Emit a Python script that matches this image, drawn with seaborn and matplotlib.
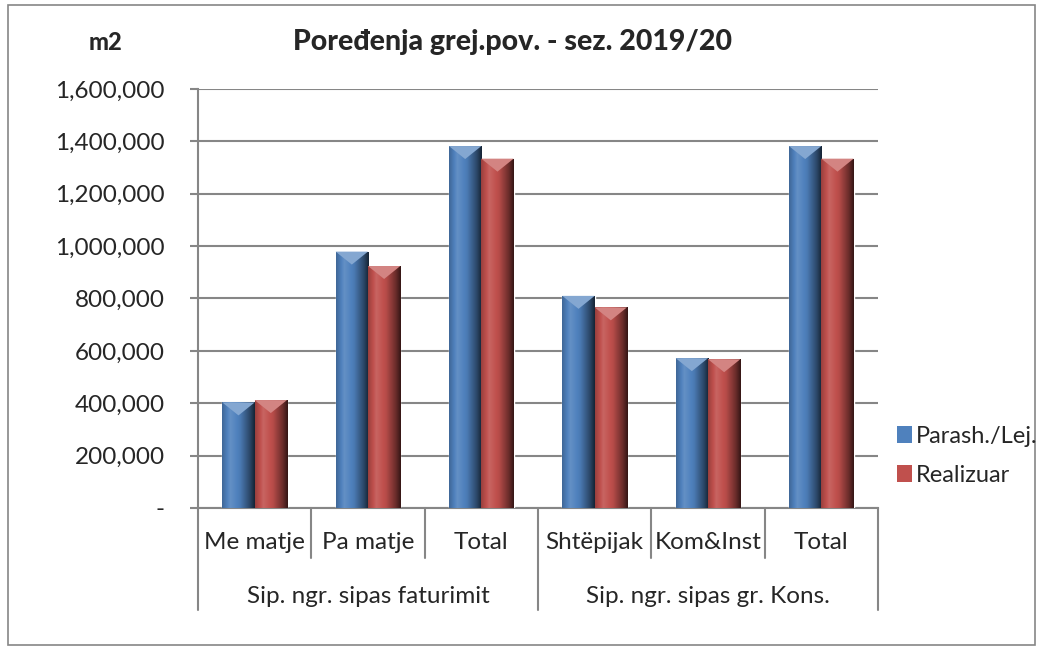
import numpy as np
import pandas as pd
import matplotlib.pyplot as plt
import seaborn as sns
from matplotlib.patches import Patch, Polygon, Rectangle
import matplotlib.transforms as mtransforms

# ----------------------------
# Data
# ----------------------------
groups = ["Sip. ngr. sipas faturimit", "Sip. ngr. sipas gr. Kons."]
sub_labels = ["Me matje", "Pa matje", "Total", "Shtëpijak", "Kom&Inst", "Total"]
group_of_sub = [0, 0, 0, 1, 1, 1]
series = ["Parash./Lej.", "Realizuar"]
planned = [403000, 979000, 1382000, 810000, 572000, 1382000]
realized = [412000, 924000, 1334000, 766000, 568000, 1334000]
yticks = [0, 200000, 400000, 600000, 800000, 1000000, 1200000, 1400000, 1600000]

keys = [f"{groups[g]}|{s}|{i}" for i, (g, s) in enumerate(zip(group_of_sub, sub_labels))]
df = pd.DataFrame({
    "key": keys * 2,
    "series": [series[0]] * 6 + [series[1]] * 6,
    "value": planned + realized,
})

blue = "#4F81BD"
red = "#C0504D"
grid_col = "#868686"

# ----------------------------
# Figure
# ----------------------------
sns.set_style("white")
plt.rcParams["font.family"] = ["Lato", "DejaVu Sans"]

fig = plt.figure(figsize=(10.43, 6.53), dpi=100)
ax = fig.add_axes([0.1898, 0.2221, 0.652, 0.6416])

sns.barplot(data=df, x="key", y="value", hue="series", order=keys,
            hue_order=series, palette=[blue, red], width=0.57,
            saturation=1, legend=False, ax=ax, zorder=3)

# cylinder-like shading on every bar
def shade(base, n=64):
    rgb = np.array(plt.matplotlib.colors.to_rgb(base))
    t = np.linspace(0, 1, n)
    f = np.interp(t, [0, 0.25, 0.55, 0.85, 1.0], [0.8, 1.12, 0.95, 0.55, 0.28])
    cols = []
    for v in f:
        if v > 1:
            c = rgb + (1 - rgb) * (v - 1)
        else:
            c = rgb * v
        cols.append(np.clip(c, 0, 1))
    return np.array(cols)[None, :, :]

px = 1600000 / 420.0
bars = [p for p in ax.patches if p.get_height() > 0]
for p in bars:
    x, w, h = p.get_x(), p.get_width(), p.get_height()
    base = p.get_facecolor()
    img = ax.imshow(shade(base), extent=[x, x + w, 0, h], aspect="auto",
                    zorder=4, interpolation="bilinear")
    img.set_clip_path(p)
    rgb = np.array(base[:3])
    light = rgb + (1 - rgb) * 0.3
    tri = Polygon([[x, h], [x + w, h], [x + w / 2, h - 13 * px]], closed=True,
                  facecolor=light, edgecolor="none", zorder=5)
    ax.add_patch(tri)

ax.set_xlim(-0.5, 5.5)
ax.set_ylim(0, 1600000)
ax.set_yticks(yticks)
ax.set_yticklabels(["-"] + [f"{v:,.0f}" for v in yticks[1:]], fontsize=17.5)
ax.set_xticks([])
ax.set_xlabel("")
ax.set_ylabel("")
ax.yaxis.grid(True, color=grid_col, lw=1.5, zorder=0)
ax.tick_params(axis="y", length=6, width=1.5, color=grid_col, pad=18, left=True)
for s in ["top", "right"]:
    ax.spines[s].set_visible(False)
for s in ["left", "bottom"]:
    ax.spines[s].set_color(grid_col)
    ax.spines[s].set_linewidth(1.5)

# multi-level category axis
trans = mtransforms.blended_transform_factory(ax.transData, ax.transAxes)
for i, lab in enumerate(sub_labels):
    ax.text(i, -0.083, lab, transform=trans, ha="center", va="center", fontsize=17.5)
for b in np.arange(-0.5, 6, 1.0):
    depth = -0.243 if b in (-0.5, 2.5, 5.5) else -0.119
    ax.plot([b, b], [0, depth], transform=trans, color=grid_col, lw=1.5, clip_on=False)
for g, name in enumerate(groups):
    ax.text(g * 3 + 1, -0.212, name, transform=trans, ha="center", va="center", fontsize=17.5)

# titles
fig.text(0.491, 0.935, "Poređenja grej.pov. - sez. 2019/20", ha="center", va="center",
         fontsize=20.5, fontweight="black")
fig.text(0.101, 0.935, "m2", ha="center", va="center", fontsize=17, fontweight="black")

# legend
handles = [Patch(facecolor=blue, edgecolor="none"), Patch(facecolor=red, edgecolor="none")]
fig.legend(handles, series, loc="center left", bbox_to_anchor=(0.84, 0.302),
           frameon=False, fontsize=17, handlelength=0.6, handleheight=0.7,
           handletextpad=0.2, labelspacing=0.75)

# chart border
fig.patches.append(Rectangle((0.008, 0.012), 0.984, 0.98, transform=fig.transFigure,
                             fill=False, edgecolor=grid_col, lw=1.2))

fig.savefig("out.png", dpi=100)
